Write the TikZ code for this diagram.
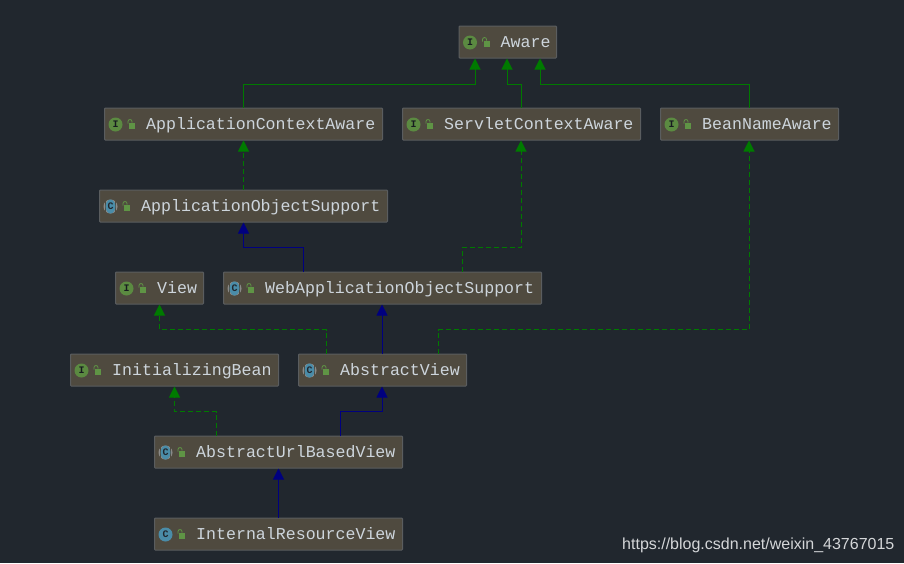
\documentclass[tikz,border=0pt]{standalone}
\usepackage{fontspec}
\setmainfont{Liberation Sans}
\setmonofont{Liberation Mono}
\usetikzlibrary{arrows.meta}
\definecolor{bgc}{HTML}{21272E}
\definecolor{boxfill}{HTML}{4F4A3F}
\definecolor{boxline}{HTML}{5A5D5F}
\definecolor{txt}{HTML}{CDD5DC}
\definecolor{igreen}{HTML}{5B8A41}
\definecolor{cteal}{HTML}{4A8CA8}
\definecolor{hatch}{HTML}{8A8A88}
\definecolor{lockc}{HTML}{5F9445}
\definecolor{implc}{HTML}{007A00}
\definecolor{extc}{HTML}{00007F}
\definecolor{mark}{HTML}{D4D6D8}
\tikzset{
  x=1pt,y=-1pt,
  umlbox/.style={draw=boxline,line width=1pt,fill=boxfill,rounded corners=0.8pt,inner sep=0pt,minimum height=32pt,anchor=west},
  labeltext/.style={text=txt,font=\ttfamily\fontsize{16.6}{18}\selectfont,anchor=base west,inner sep=0pt},
  iconletter/.style={text=#1,font=\ttfamily\bfseries\fontsize{10}{10}\selectfont,inner sep=0pt},
  impl/.style={draw=implc,line width=1pt,-{Triangle[length=11pt,width=11pt,fill=implc]}},
  dashimpl/.style={impl,dash pattern=on 5pt off 3pt},
  extd/.style={draw=extc,line width=1pt,-{Triangle[length=11pt,width=11pt,fill=extc]}},
  wm/.style={text=mark,font=\fontsize{16}{18}\selectfont,anchor=base west,inner sep=0pt}
}
\newcommand{\lockicon}[2]{%
  \fill[lockc] (#1-1.5,#2-2) rectangle (#1+4.5,#2+4);
  \draw[lockc,line width=0.8pt] (#1-2.5,#2-1) -- (#1-2.5,#2-3) arc[start angle=180,end angle=0,x radius=2,y radius=-2] -- (#1+1.5,#2-2);
}
\newcommand{\iconI}[2]{%
  \fill[igreen] (#1,#2) circle[radius=7];
  \node[iconletter=bgc!70!black] at (#1,#2) {I};
}
\newcommand{\iconC}[2]{%
  \fill[cteal] (#1,#2) circle[radius=7];
  \node[iconletter=bgc] at (#1,#2) {C};
}
\newcommand{\iconA}[2]{%
  \fill[hatch] (#1,#2) circle[radius=7];
  \fill[boxfill] (#1-5.6,#2-7) rectangle (#1-4.9,#2+7);
  \fill[boxfill] (#1+4.9,#2-7) rectangle (#1+5.6,#2+7);
  \fill[cteal] (#1,#2) ellipse[x radius=4.9,y radius=7];
  \node[iconletter=bgc] at (#1,#2) {C};
}
\newcommand{\umlnode}[6]{%
  \pgfmathsetmacro{\bw}{#3-#2}
  \node[umlbox,minimum width=\bw pt] (#1) at (#2,#4) {};
  \csname icon#5\endcsname{#2+11.5}{#4+0.5}
  \lockicon{#2+26.5}{#4+0.5}
  \node[labeltext] (#1-label) at (#2+42,#4+5.5) {#6};
}
\begin{document}
\begin{tikzpicture}
\fill[bgc] (0,0) rectangle (904,563);
\useasboundingbox (0,0) rectangle (904,563);

\umlnode{aware}{458.5}{556}{42}{I}{Aware}
\umlnode{aca}{104}{382}{124}{I}{ApplicationContextAware}
\umlnode{sca}{402}{640}{124}{I}{ServletContextAware}
\umlnode{bna}{660}{838}{124}{I}{BeanNameAware}
\umlnode{aos}{99}{387}{206}{A}{ApplicationObjectSupport}
\umlnode{view}{115}{203}{288}{I}{View}
\umlnode{waos}{223}{541}{288}{A}{WebApplicationObjectSupport}
\umlnode{ib}{70}{278}{370}{I}{InitializingBean}
\umlnode{av}{298}{466}{370}{A}{AbstractView}
\umlnode{aubv}{154}{402}{452}{A}{AbstractUrlBasedView}
\umlnode{irv}{154}{402}{534}{C}{InternalResourceView}

\node[wm] (mark) at (622,549.5) {https://blog.csdn.net/weixin\_43767015};

\coordinate (awA) at (475,58.5);
\coordinate (awB) at (507,58.5);
\coordinate (awC) at (540,58.5);
\coordinate (jA) at (475,84);
\coordinate (jB) at (507,84);
\coordinate (jC) at (540,84);
\coordinate (scaIn) at (521,108);
\coordinate (scaOut) at (521,140.5);
\coordinate (bnaIn) at (749,108);
\coordinate (bnaOut) at (749,140.5);
\coordinate (acaIn) at (243.5,108);
\coordinate (acaOut) at (243.5,140.5);
\coordinate (aosTop) at (243.5,190);
\coordinate (aosBot) at (243.5,222.5);
\coordinate (w1) at (303.5,272);
\coordinate (w1k) at (303.5,247);
\coordinate (w2) at (462.5,272);
\coordinate (w2k) at (462.5,247);
\coordinate (wBot) at (382,304.5);
\coordinate (avTop) at (382,354);
\coordinate (avL) at (326.5,354);
\coordinate (avR) at (438.5,354);
\coordinate (vk) at (326.5,329.5);
\coordinate (rk) at (438.5,329.5);
\coordinate (vBot) at (159.5,304.5);
\coordinate (ibBot) at (174.5,386.5);
\coordinate (ak) at (216.5,411.5);
\coordinate (aL) at (216.5,436);
\coordinate (aR) at (340.5,436);
\coordinate (ak2) at (340.5,411.5);
\coordinate (avBot) at (382,386.5);
\coordinate (auTop) at (278.5,468.5);
\coordinate (irTop) at (278.5,518);

\draw[impl] (acaIn) |- (jA) -- (awA);
\draw[impl] (scaIn) |- (jB) -- (awB);
\draw[impl] (bnaIn) |- (jC) -- (awC);
\draw[dashimpl] (aosTop) -- (acaOut);
\draw[extd] (w1) |- (aosBot |- w1k) -- (aosBot);
\draw[dashimpl] (w2) |- (scaOut |- w2k) -- (scaOut);
\draw[extd] (avTop) -- (wBot);
\draw[dashimpl] (avL) |- (vBot |- vk) -- (vBot);
\draw[dashimpl] (avR) |- (bnaOut |- rk) -- (bnaOut);
\draw[dashimpl] (aL) |- (ibBot |- ak) -- (ibBot);
\draw[extd] (aR) |- (avBot |- ak2) -- (avBot);
\draw[extd] (irTop) -- (auTop);
\end{tikzpicture}
\end{document}
